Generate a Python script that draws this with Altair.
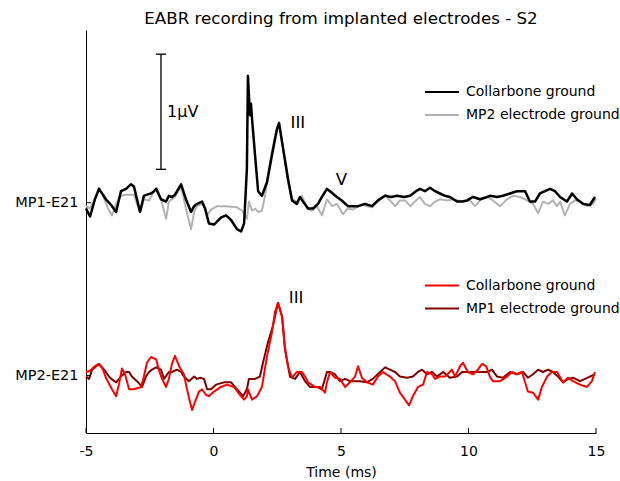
import altair as alt
import pandas as pd

FONT = "DejaVu Sans"

# ---------------- data (time in ms, amplitude in microvolts) ----------------
MP1_BASE = 2.0   # vertical offset of the MP1-E21 traces
MP2_BASE = 0.5   # vertical offset of the MP2-E21 traces

mp1_collarbone = [
    (-5.00, -0.05), (-4.84, -0.12), (-4.65, 0.03), (-4.49, 0.12), (-4.22, 0.03), (-3.98, -0.03),
    (-3.82, -0.08), (-3.63, 0.10), (-3.43, 0.12), (-3.24, 0.16), (-3.12, 0.14), (-3.00, 0.03),
    (-2.88, -0.08), (-2.73, 0.06), (-2.61, 0.07), (-2.45, 0.08), (-2.33, 0.10), (-2.25, 0.12),
    (-2.06, 0.03), (-1.86, 0.01), (-1.75, 0.06), (-1.63, 0.05), (-1.51, 0.07), (-1.27, 0.16),
    (-1.08, 0.03), (-0.88, -0.08), (-0.76, -0.03), (-0.65, -0.01), (-0.45, 0.01), (-0.33, -0.05),
    (-0.18, -0.18), (0.02, -0.19), (0.29, -0.13), (0.49, -0.11), (0.69, -0.15), (0.92, -0.23),
    (1.08, -0.25), (1.20, -0.18), (1.27, 0.12), (1.31, 0.30), (1.35, 1.10), (1.43, 0.76),
    (1.47, 0.86), (1.51, 0.73), (1.63, 0.41), (1.75, 0.10), (1.90, 0.06), (2.10, 0.18),
    (2.29, 0.41), (2.49, 0.64), (2.57, 0.69), (2.73, 0.47), (2.92, 0.21), (3.08, 0.02),
    (3.27, -0.01), (3.39, 0.05), (3.51, 0.01), (3.71, -0.05), (3.90, -0.05), (4.10, -0.01),
    (4.25, 0.05), (4.45, 0.12), (4.57, 0.10), (4.84, 0.05), (5.08, 0.01), (5.27, -0.03),
    (5.47, -0.03), (5.67, -0.03), (5.94, -0.01), (6.22, -0.03), (6.45, 0.02), (6.73, 0.06),
    (6.96, 0.05), (7.20, 0.06), (7.47, 0.05), (7.71, 0.06), (7.94, 0.10), (8.10, 0.12),
    (8.29, 0.10), (8.49, 0.13), (8.69, 0.10), (8.88, 0.08), (9.08, 0.06), (9.27, 0.05),
    (9.55, 0.01), (9.75, 0.01), (9.94, 0.02), (10.18, 0.05), (10.45, 0.03), (10.73, 0.05),
    (10.84, 0.06), (11.12, 0.05), (11.35, 0.06), (11.63, 0.08), (11.90, 0.10), (12.22, 0.10),
    (12.41, 0.01), (12.61, 0.01), (12.80, 0.08), (13.00, 0.10), (13.20, 0.12), (13.39, 0.10),
    (13.59, 0.05), (13.86, 0.01), (14.06, 0.08), (14.25, 0.03), (14.49, -0.01), (14.76, -0.02),
    (14.96, 0.05),
]

mp1_mp2ground = [
    (-5.00, -0.03), (-4.84, -0.05), (-4.65, 0.03), (-4.49, 0.13), (-4.33, 0.06), (-4.14, -0.05),
    (-3.98, -0.11), (-3.82, -0.01), (-3.63, 0.06), (-3.43, 0.07), (-3.24, 0.07), (-3.12, 0.07),
    (-3.00, -0.01), (-2.88, -0.08), (-2.73, 0.03), (-2.53, 0.02), (-2.33, 0.10), (-2.22, 0.13),
    (-2.06, 0.03), (-1.86, -0.14), (-1.75, 0.01), (-1.63, 0.03), (-1.51, 0.05), (-1.27, 0.14),
    (-1.08, -0.05), (-0.88, -0.23), (-0.76, -0.08), (-0.65, -0.03), (-0.45, -0.01), (-0.33, -0.05),
    (-0.25, -0.11), (-0.10, -0.06), (0.14, -0.03), (0.49, -0.03), (0.92, -0.04), (1.12, -0.07),
    (1.24, -0.11), (1.31, -0.14), (1.39, 0.01), (1.51, -0.07), (1.63, -0.05), (1.75, -0.08),
    (1.90, -0.07), (2.02, 0.06), (2.22, 0.36), (2.41, 0.58), (2.57, 0.70), (2.73, 0.47),
    (2.92, 0.18), (3.08, 0.03), (3.27, 0.01), (3.47, 0.06), (3.67, -0.05), (3.86, -0.07),
    (4.06, -0.03), (4.25, -0.11), (4.45, 0.03), (4.65, -0.03), (4.84, -0.01), (5.08, -0.10),
    (5.27, -0.05), (5.47, -0.06), (5.67, -0.03), (5.86, -0.02), (6.02, -0.03), (6.22, -0.04),
    (6.45, 0.01), (6.73, 0.07), (6.92, 0.02), (7.12, -0.03), (7.31, 0.02), (7.51, 0.02),
    (7.71, -0.03), (7.90, 0.01), (8.10, 0.05), (8.29, -0.01), (8.49, -0.03), (8.69, 0.01),
    (8.88, 0.03), (9.16, 0.02), (9.39, 0.03), (9.59, 0.02), (9.78, 0.01), (10.06, 0.02),
    (10.25, -0.03), (10.45, 0.02), (10.73, 0.05), (10.96, 0.02), (11.24, -0.03), (11.51, 0.03),
    (11.75, 0.06), (12.02, 0.05), (12.29, 0.02), (12.53, -0.01), (12.73, -0.09), (12.92, 0.01),
    (13.12, -0.01), (13.31, 0.02), (13.47, -0.03), (13.59, 0.01), (13.78, -0.11), (13.98, -0.01),
    (14.18, 0.02), (14.37, 0.01), (14.65, -0.03), (14.88, -0.01), (15.00, 0.03),
]

mp2_collarbone = [
    (-5.00, 0.03), (-4.84, 0.04), (-4.65, 0.08), (-4.49, 0.10), (-4.33, 0.05), (-4.22, -0.02),
    (-3.98, -0.12), (-3.82, -0.18), (-3.71, -0.08), (-3.59, 0.06), (-3.47, 0.01), (-3.31, -0.12),
    (-3.12, -0.12), (-2.84, -0.10), (-2.73, -0.01), (-2.61, 0.11), (-2.45, 0.16), (-2.25, 0.14),
    (-2.14, 0.05), (-2.02, -0.03), (-1.86, -0.10), (-1.75, -0.03), (-1.63, 0.10), (-1.51, 0.17),
    (-1.35, 0.08), (-1.16, 0.01), (-1.04, -0.12), (-0.92, -0.23), (-0.84, -0.30), (-0.69, -0.21),
    (-0.57, -0.14), (-0.45, -0.12), (-0.29, -0.17), (-0.18, -0.18), (0.02, -0.14), (0.29, -0.10),
    (0.53, -0.08), (0.80, -0.10), (1.04, -0.17), (1.20, -0.21), (1.31, -0.18), (1.35, -0.12),
    (1.51, -0.21), (1.71, -0.18), (1.90, -0.10), (2.10, 0.17), (2.29, 0.37), (2.41, 0.55),
    (2.53, 0.63), (2.69, 0.51), (2.80, 0.25), (2.92, 0.08), (3.08, -0.02), (3.27, 0.03),
    (3.47, 0.03), (3.59, -0.01), (3.71, -0.06), (3.98, -0.10), (4.18, -0.10), (4.37, -0.15),
    (4.45, -0.06), (4.57, 0.03), (4.76, -0.02), (4.96, -0.03), (5.16, -0.10), (5.35, -0.06),
    (5.55, -0.01), (5.67, 0.08), (5.82, -0.02), (6.02, -0.06), (6.25, -0.08), (6.45, -0.01),
    (6.65, 0.03), (6.92, -0.01), (7.12, -0.05), (7.31, -0.15), (7.51, -0.21), (7.67, -0.26),
    (7.82, -0.18), (8.02, -0.10), (8.22, -0.08), (8.37, 0.03), (8.57, 0.01), (8.69, -0.03),
    (8.88, -0.01), (9.08, -0.01), (9.35, 0.05), (9.47, -0.01), (9.67, 0.08), (9.78, 0.11),
    (9.98, 0.03), (10.18, 0.01), (10.37, 0.05), (10.53, 0.10), (10.69, 0.08), (10.84, -0.01),
    (10.96, -0.05), (11.24, -0.05), (11.51, -0.01), (11.71, 0.03), (11.90, 0.01), (12.10, 0.03),
    (12.22, -0.06), (12.33, -0.14), (12.53, -0.15), (12.73, -0.21), (12.88, -0.10), (13.08, -0.01),
    (13.27, 0.03), (13.47, 0.03), (13.71, -0.06), (13.90, -0.02), (14.10, -0.05), (14.37, -0.08),
    (14.65, -0.10), (14.84, -0.05), (14.96, 0.03),
]

mp2_mp1ground = [
    (-5.00, -0.01), (-4.88, -0.03), (-4.76, 0.05), (-4.49, 0.10), (-4.29, 0.05), (-4.06, -0.02),
    (-3.82, -0.06), (-3.63, -0.01), (-3.43, 0.03), (-3.31, 0.03), (-3.20, -0.01), (-3.00, -0.05),
    (-2.80, -0.10), (-2.65, -0.01), (-2.53, 0.03), (-2.41, 0.05), (-2.25, 0.07), (-2.06, 0.05),
    (-1.94, -0.03), (-1.75, 0.03), (-1.63, 0.03), (-1.43, 0.05), (-1.27, 0.03), (-1.16, -0.01),
    (-0.96, -0.05), (-0.76, -0.01), (-0.65, -0.03), (-0.53, -0.02), (-0.37, -0.03), (-0.25, -0.12),
    (-0.10, -0.12), (0.10, -0.08), (0.41, -0.06), (0.69, -0.06), (0.92, -0.12), (1.16, -0.18),
    (1.31, -0.12), (1.39, -0.03), (1.51, -0.03), (1.63, -0.03), (1.82, -0.01), (1.94, 0.11),
    (2.14, 0.29), (2.33, 0.43), (2.53, 0.63), (2.69, 0.51), (2.80, 0.23), (3.00, -0.01),
    (3.20, -0.03), (3.39, 0.03), (3.59, -0.05), (3.78, -0.10), (4.06, -0.10), (4.25, -0.12),
    (4.45, 0.03), (4.57, 0.03), (4.76, 0.01), (4.96, -0.05), (5.16, -0.03), (5.35, -0.05),
    (5.55, -0.05), (5.75, -0.05), (6.02, -0.06), (6.25, -0.03), (6.53, 0.03), (6.73, 0.07),
    (6.92, 0.05), (7.12, 0.03), (7.31, -0.01), (7.59, -0.02), (7.82, -0.01), (8.02, 0.03),
    (8.18, 0.05), (8.37, 0.01), (8.57, 0.03), (8.76, -0.01), (9.00, 0.03), (9.27, -0.02),
    (9.55, -0.01), (9.75, 0.03), (9.94, 0.03), (10.18, 0.03), (10.45, 0.03), (10.73, 0.03),
    (10.92, 0.05), (11.12, -0.01), (11.35, -0.02), (11.63, 0.03), (11.90, 0.01), (12.14, 0.03),
    (12.33, -0.02), (12.53, 0.01), (12.73, 0.05), (12.92, 0.03), (13.12, 0.05), (13.31, 0.03),
    (13.51, -0.01), (13.71, -0.06), (13.90, -0.03), (14.10, -0.02), (14.37, -0.05), (14.57, -0.03),
    (14.76, -0.01), (14.96, 0.01),
]

x_ticks = [-5, 0, 5, 10, 15]
channel_bases = [MP2_BASE, MP1_BASE]

# wave labels: (time ms, level, text)
wave_labels = [(3.31, 2.69, "III"), (5.02, 2.20, "V"), (3.24, 1.17, "III")]

# scale bar: 1 microvolt, drawn at t = -2.06 ms starting at level 2.29
bar_t = -2.06
bar_start = 2.29
bar_len = 1.0
bar_text = "1\u03bcV"

title_text = "EABR recording from implanted electrodes - S2"
legend_top = [("Collarbone ground", "#000000"), ("MP2 electrode ground", "#b3b3b3")]
legend_bottom = [("Collarbone ground", "#ff0000"), ("MP1 electrode ground", "#800000")]

# ---------------- chart ----------------
x_scale = alt.Scale(domain=[-5, 15], nice=False, zero=False)
y_scale = alt.Scale(domain=[0, 3.5], nice=False, zero=False)

x_axis = alt.Axis(
    values=x_ticks, ticks=False, grid=False, domainColor="black", domainWidth=1,
    labelFont=FONT, labelFontSize=14, labelColor="black", labelPadding=11,
    labelExpr="'' + datum.value", labelFlush=False,
    title="Time (ms)", titleFont=FONT, titleFontSize=14, titleFontWeight="normal",
    titleColor="black", titleBaseline="alphabetic", titleY=43,
)
y_axis = alt.Axis(
    values=channel_bases, ticks=False, grid=False, domainColor="black", domainWidth=1,
    labelFont=FONT, labelFontSize=14.5, labelColor="black", labelPadding=8,
    labelExpr="datum.value > 1 ? 'MP1-E21' : 'MP2-E21'", labelBaseline="middle",
    title=None,
)


def X(field):
    return alt.X(field, scale=x_scale, axis=x_axis)


def Y(field):
    return alt.Y(field, scale=y_scale, axis=y_axis)


def trace(pairs, base):
    return pd.DataFrame({"t": [p[0] for p in pairs], "y": [base + p[1] for p in pairs]})


def line_layer(pairs, base, color, width):
    return alt.Chart(trace(pairs, base)).mark_line(
        color=color, strokeWidth=width, strokeJoin="round"
    ).encode(x=X("t:Q"), y=Y("y:Q"), order=alt.Order("t:Q"))


layers = [
    line_layer(mp1_mp2ground, MP1_BASE, "#b3b3b3", 2.0),
    line_layer(mp1_collarbone, MP1_BASE, "#000000", 2.5),
    line_layer(mp2_mp1ground, MP2_BASE, "#800000", 2.0),
    line_layer(mp2_collarbone, MP2_BASE, "#ff0000", 2.0),
]

# inward ticks
xt = alt.Chart(pd.DataFrame({"t": x_ticks})).mark_rule(color="black", strokeWidth=1).encode(
    x=X("t:Q"), y=alt.value(403), y2=alt.value(398))
yt = alt.Chart(pd.DataFrame({"y": channel_bases})).mark_rule(color="black", strokeWidth=1).encode(
    y=Y("y:Q"), x=alt.value(0), x2=alt.value(5))
layers += [xt, yt]

# scale bar
cap = 0.2
bar_df = pd.DataFrame({"t": [bar_t], "y0": [bar_start], "y1": [bar_start + bar_len]})
caps_df = pd.DataFrame({"t0": [bar_t - cap] * 2, "t1": [bar_t + cap] * 2,
                        "y": [bar_start, bar_start + bar_len]})
bar = alt.Chart(bar_df).mark_rule(color="black", strokeWidth=1.3).encode(
    x=X("t:Q"), y=Y("y0:Q"), y2="y1:Q")
caps = alt.Chart(caps_df).mark_rule(color="black", strokeWidth=1.3).encode(
    x=X("t0:Q"), x2="t1:Q", y=Y("y:Q"))
bar_lbl = alt.Chart(pd.DataFrame({"t": [bar_t + 0.24], "y": [bar_start + bar_len / 2],
                                  "s": [bar_text]})).mark_text(
    font=FONT, fontSize=16, align="left", baseline="middle", color="black").encode(
    x=X("t:Q"), y=Y("y:Q"), text="s:N")
layers += [bar, caps, bar_lbl]

# wave labels
wl = pd.DataFrame({"t": [w[0] for w in wave_labels], "y": [w[1] for w in wave_labels],
                   "s": [w[2] for w in wave_labels]})
layers.append(alt.Chart(wl).mark_text(font=FONT, fontSize=16.7, align="center", baseline="middle",
                                      color="black").encode(
    x=X("t:Q"), y=Y("y:Q"), text="s:N"))


# legends (pixel positions inside plot area)
def legend_entries(entries, top_px):
    out = []
    for i, (label, color) in enumerate(entries):
        ypx = top_px + i * 23
        src = pd.DataFrame({"s": [label]})
        out.append(alt.Chart(src).mark_rule(color=color, strokeWidth=2.2).encode(
            x=alt.value(339), x2=alt.value(373), y=alt.value(ypx)))
        out.append(alt.Chart(src).mark_text(font=FONT, fontSize=14, align="left", baseline="middle",
                                            color="black").encode(
            x=alt.value(380), y=alt.value(ypx), text="s:N"))
    return out


layers += legend_entries(legend_top, 62)
layers += legend_entries(legend_bottom, 255.5)

# chart title as a text mark centred over the plot area
layers.append(alt.Chart(pd.DataFrame({"s": [title_text]})).mark_text(
    font=FONT, fontSize=16.7, align="center", baseline="alphabetic", color="black").encode(
    x=alt.value(255), y=alt.value(-6), text="s:N"))

chart = alt.layer(*layers).properties(
    width=510, height=403,
    autosize=alt.AutoSizeParams(type="none"),
    padding={"left": 86, "top": 30, "right": 24, "bottom": 48},
    background="white",
).configure_view(strokeWidth=0)

chart.save("out.html", embed_options={"renderer": "svg", "actions": False})
